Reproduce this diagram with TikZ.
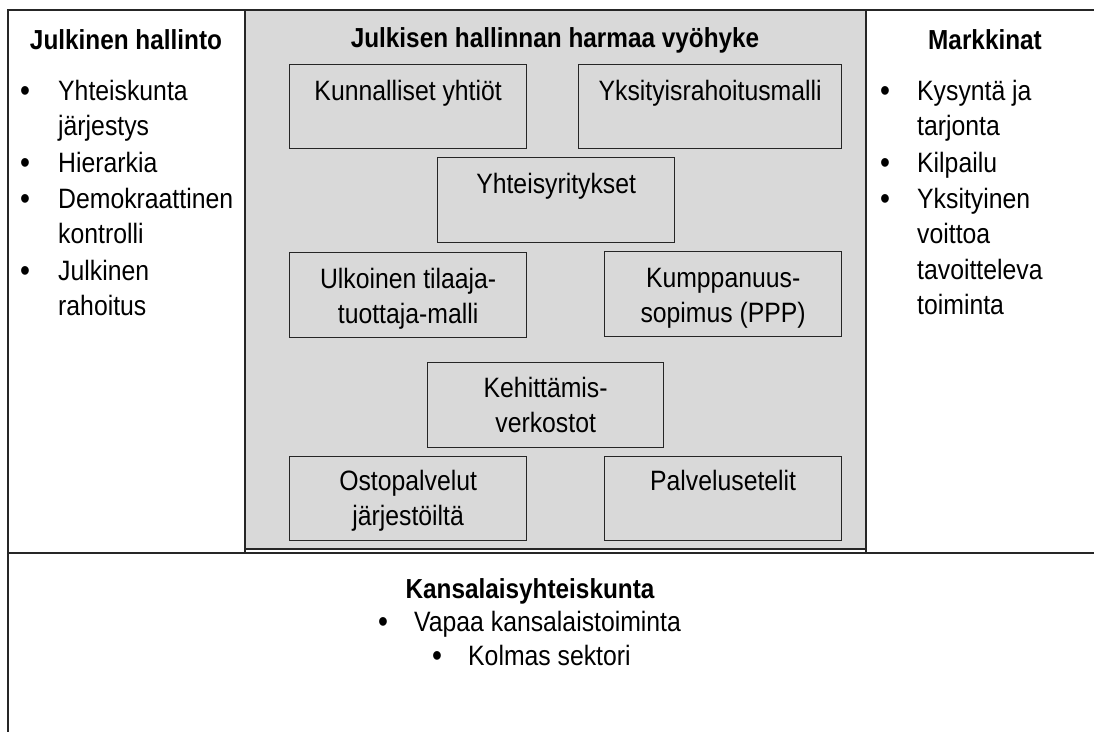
\documentclass[tikz,border=0pt]{standalone}
\usepackage{fontspec}
\setmainfont{Liberation Sans}[FakeStretch=0.885]
\usetikzlibrary{calc}
\definecolor{linec}{HTML}{262626}
\definecolor{grayfill}{HTML}{D9D9D9}
\newcommand{\tl}[1]{\begin{tabular}[t]{@{}l@{}}#1\end{tabular}}
\newcommand{\tc}[1]{\begin{tabular}[t]{@{}c@{}}#1\end{tabular}}
\begin{document}
\begin{tikzpicture}[x=1pt,y=-1pt,
  tableline/.style={draw=linec,line width=2pt},
  itembox/.style={draw=linec,line width=1.3pt,anchor=north west,inner sep=0pt},
  txt/.style={font=\fontsize{28}{35.5}\selectfont,inner sep=0pt,text=black},
  ttl/.style={font=\fontsize{27.5}{35}\selectfont\bfseries,inner sep=0pt,anchor=base,text=black},
  bul/.style={font=\fontsize{32}{35.5}\selectfont,inner sep=0pt,text=black,anchor=base,yshift=-1.2pt},
  itm/.style={txt,anchor=base west},
  boxtxt/.style={txt,anchor=base}]
\useasboundingbox (0,0) rectangle (1094,731);
% gray zone
\path[fill=grayfill,draw=linec,line width=1.2pt] (245,10) rectangle (866,549);
% table lines
\coordinate (tl) at (8,10);
\coordinate (tr) at (1096,10);
\coordinate (ml) at (8,553);
\coordinate (mr) at (1096,553);
\coordinate (bl) at (8,733);
\coordinate (c1t) at (245,10);
\coordinate (c1b) at (245,553);
\coordinate (c2t) at (866,10);
\coordinate (c2b) at (866,553);
\draw[tableline] (tr) -- (tl) -- (bl);
\draw[tableline] (ml) -- (mr);
\draw[tableline] (c1t) -- (c1b);
\draw[tableline] (c2t) -- (c2b);
% titles
\node[ttl] (t1) at (126,49) {Julkinen hallinto};
\node[ttl] (t2) at (555,47) {Julkisen hallinnan harmaa vyöhyke};
\node[ttl] (t3) at (985,49) {Markkinat};
\node[ttl] (t4) at (530,598) {Kansalaisyhteiskunta};
% left list
\node[bul] (lb1) at (25,100) {•};
\node[itm] (li1) at (58,100) {\tl{Yhteiskunta\\järjestys}};
\node[bul] (lb2) at (25,172) {•};
\node[itm] (li2) at (58,172) {Hierarkia};
\node[bul] (lb3) at (25,208) {•};
\node[itm] (li3) at (58,208) {\tl{Demokraattinen\\kontrolli}};
\node[bul] (lb4) at (25,280) {•};
\node[itm] (li4) at (58,280) {\tl{Julkinen\\rahoitus}};
% right list
\node[bul] (rb1) at (885,100) {•};
\node[itm] (ri1) at (917,100) {\tl{Kysyntä ja\\tarjonta}};
\node[bul] (rb2) at (885,172) {•};
\node[itm] (ri2) at (917,172) {Kilpailu};
\node[bul] (rb3) at (885,208) {•};
\node[itm] (ri3) at (917,208) {\tl{Yksityinen\\voittoa\\tavoitteleva\\toiminta}};
% bottom list
\node[bul] (bb1) at (383,631) {•};
\node[itm] (bi1) at (414,631) {Vapaa kansalaistoiminta};
\node[bul] (bb2) at (437,665) {•};
\node[itm] (bi2) at (468,665) {Kolmas sektori};
% boxes
\node[itembox,minimum width=237pt,minimum height=84pt] (kun) at (289,64) {};
\node[boxtxt] (kunt) at ($(kun.north)+(0,36)$) {Kunnalliset yhtiöt};
\node[itembox,minimum width=263pt,minimum height=84pt] (yks) at (578,64) {};
\node[boxtxt] (ykst) at ($(yks.north)+(0,36)$) {Yksityisrahoitusmalli};
\node[itembox,minimum width=237pt,minimum height=85pt] (yht) at (437,157) {};
\node[boxtxt] (yhtt) at ($(yht.north)+(0,36)$) {Yhteisyritykset};
\node[itembox,minimum width=237pt,minimum height=85pt] (ulk) at (289,252) {};
\node[boxtxt] (ulkt) at ($(ulk.north)+(0,36)$) {\tc{Ulkoinen tilaaja-\\tuottaja-malli}};
\node[itembox,minimum width=237pt,minimum height=85pt] (kum) at (604,251) {};
\node[boxtxt] (kumt) at ($(kum.north)+(0,36)$) {\tc{Kumppanuus-\\sopimus (PPP)}};
\node[itembox,minimum width=236pt,minimum height=85pt] (keh) at (427,362) {};
\node[boxtxt] (keht) at ($(keh.north)+(0,35)$) {\tc{Kehittämis-\\verkostot}};
\node[itembox,minimum width=237pt,minimum height=84pt] (ost) at (289,456) {};
\node[boxtxt] (ostt) at ($(ost.north)+(0,34)$) {\tc{Ostopalvelut\\järjestöiltä}};
\node[itembox,minimum width=237pt,minimum height=84pt] (pal) at (604,456) {};
\node[boxtxt] (palt) at ($(pal.north)+(0,34)$) {Palvelusetelit};
\end{tikzpicture}
\end{document}
